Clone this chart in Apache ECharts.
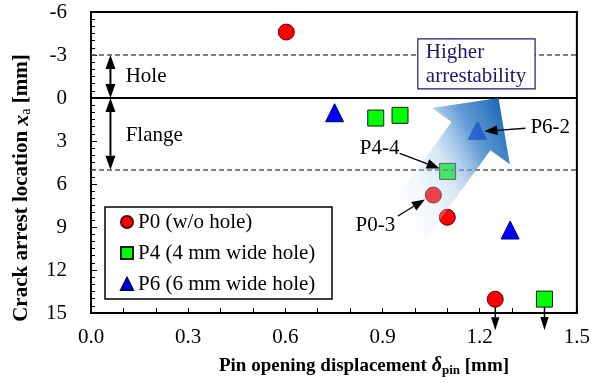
<!DOCTYPE html>
<html>
<head>
<meta charset="utf-8">
<script src="https://cdn.jsdelivr.net/npm/echarts@6/dist/echarts.min.js"></script>
<style>
  html, body { margin: 0; padding: 0; background: #fff; }
  #chart { width: 593px; height: 386px; }
</style>
</head>
<body>
<div id="chart"></div>
<script>
// Pin opening displacement [mm] and crack arrest location [mm] for each specimen group
const p0Delta = [0.603, 1.057, 1.100, 1.248];
const p0Xa    = [-4.6, 6.77, 8.32, 14.04];
const p4Delta = [0.879, 0.954, 1.101, 1.400];
const p4Xa    = [1.40, 1.21, 5.12, 14.03];
const p6Delta = [0.752, 1.193, 1.294];
const p6Xa    = [1.03, 2.25, 9.21];

const seriesNames = ['P0 (w/o hole)', 'P4 (4 mm wide hole)', 'P6 (6 mm wide hole)'];

// Axis ticks
const xTicks = [0.0, 0.3, 0.6, 0.9, 1.2, 1.5];
const yTicks = [-6, -3, 0, 3, 6, 9, 12, 15];

// Region boundaries along the crack path [mm]
const holeEdge = -3;
const flangeTop = 0;
const flangeEdge = 5;

// Specimens whose crack ran beyond the measured range: [group, index]
const runOut = [[0, 3], [1, 3]];

// Labelled specimens: [label, group, index]
const labelled = [['P6-2', 2, 1], ['P4-4', 1, 2], ['P0-3', 0, 1]];

const FONT = '"Liberation Serif", "Times New Roman", serif';
const groups = [[p0Delta, p0Xa], [p4Delta, p4Xa], [p6Delta, p6Xa]];
const symbols = ['circle', 'rect', 'triangle'];
const fills = ['#ff0000', '#00ff00', '#0000ff'];
const edges = ['#5a0000', '#1c1c1c', '#00006a'];
const sizes = [16, 16, 18];

const chart = echarts.init(document.getElementById('chart'), null, { renderer: 'canvas' });

const pointSeries = groups.map((g, i) => ({
  type: 'scatter',
  name: seriesNames[i],
  symbol: symbols[i],
  symbolSize: sizes[i],
  z: 3,
  itemStyle: { color: fills[i], borderColor: edges[i], borderWidth: 1, opacity: 1 },
  emphasis: { disabled: true },
  data: g[0].map((x, k) => [x, g[1][k]])
}));

chart.setOption({
  animation: false,
  grid: {
    left: 91, right: 13, top: 12, bottom: 73,
    show: true, borderColor: '#000', borderWidth: 2
  },
  xAxis: {
    type: 'value',
    min: xTicks[0],
    max: xTicks[xTicks.length - 1],
    interval: xTicks[1] - xTicks[0],
    axisLine: { onZero: false, lineStyle: { color: '#000', width: 2 } },
    axisTick: { inside: true, length: 5, lineStyle: { color: '#000', width: 1 } },
    minorTick: { show: true, splitNumber: 3, length: 5, lineStyle: { color: '#000', width: 1 } },
    splitLine: { show: false },
    axisLabel: {
      margin: 14, fontSize: 21, fontFamily: FONT, color: '#000',
      formatter: v => v.toFixed(1)
    }
  },
  yAxis: {
    type: 'value',
    inverse: true,
    min: yTicks[0],
    max: yTicks[yTicks.length - 1],
    interval: yTicks[1] - yTicks[0],
    axisLine: { onZero: false, lineStyle: { color: '#000', width: 2 } },
    axisTick: { inside: true, length: 6, lineStyle: { color: '#000', width: 1 } },
    minorTick: { show: true, splitNumber: 6, length: 4, lineStyle: { color: '#000', width: 1 } },
    splitLine: { show: false },
    axisLabel: { margin: 24, fontSize: 21, fontFamily: FONT, color: '#000' }
  },
  legend: {
    data: seriesNames,
    orient: 'vertical',
    left: 120,
    top: 211,
    padding: 0,
    itemGap: 9,
    itemWidth: 12,
    itemHeight: 12,
    selectedMode: false,
    textStyle: { fontSize: 21, fontFamily: FONT, color: '#000', lineHeight: 22 }
  },
  series: [
    {
      // boundary lines drawn beneath the markers
      type: 'scatter',
      name: 'boundaries',
      data: [],
      z: 1,
      silent: true,
      markLine: {
        silent: true,
        symbol: 'none',
        animation: false,
        label: { show: false },
        data: [
          { yAxis: holeEdge, lineStyle: { type: [5, 3], color: '#555', width: 1.5 } },
          { yAxis: flangeEdge, lineStyle: { type: [5, 3], color: '#555', width: 1.5 } },
          { yAxis: flangeTop, lineStyle: { type: 'solid', color: '#000', width: 2 } }
        ]
      }
    }
  ].concat(pointSeries)
});

// ---- annotations, placed from data coordinates ----
const px = (x, y) => chart.convertToPixel({ gridIndex: 0 }, [x, y]);

function headPts(from, tip, len, hw) {
  const dx = tip[0] - from[0], dy = tip[1] - from[1];
  const L = Math.hypot(dx, dy);
  const ux = dx / L, uy = dy / L, nx = -uy, ny = ux;
  const bx = tip[0] - ux * len, by = tip[1] - uy * len;
  return { base: [bx, by], pts: [tip, [bx + nx * hw, by + ny * hw], [bx - nx * hw, by - ny * hw]] };
}

function arrow(from, tip, len, hw, width, z) {
  const h = headPts(from, tip, len, hw);
  return [
    { type: 'line', z: z, silent: true,
      shape: { x1: from[0], y1: from[1], x2: h.base[0], y2: h.base[1] },
      style: { stroke: '#000', lineWidth: width } },
    { type: 'polygon', z: z, silent: true, shape: { points: h.pts }, style: { fill: '#000' } }
  ];
}

function doubleArrow(a, b, len, hw, width, z) {
  const h1 = headPts(b, a, len, hw);
  const h2 = headPts(a, b, len, hw);
  return [
    { type: 'line', z: z, silent: true,
      shape: { x1: h1.base[0], y1: h1.base[1], x2: h2.base[0], y2: h2.base[1] },
      style: { stroke: '#000', lineWidth: width } },
    { type: 'polygon', z: z, silent: true, shape: { points: h1.pts }, style: { fill: '#000' } },
    { type: 'polygon', z: z, silent: true, shape: { points: h2.pts }, style: { fill: '#000' } }
  ];
}

const els = [];

// legend frame
els.push({ type: 'rect', z: 5, silent: true,
  shape: { x: 105, y: 207, width: 227, height: 92 },
  style: { fill: null, stroke: '#000', lineWidth: 1.5 } });

// hole / flange extents
const arrX = 0.06;
els.push(...doubleArrow(px(arrX, holeEdge), px(arrX, flangeTop), 14, 5, 2, 6));
els.push(...doubleArrow(px(arrX, flangeTop), px(arrX, flangeEdge), 14, 5, 2, 6));
const holeTxt = px(0.107, (holeEdge + flangeTop) / 2);
const flangeTxt = px(0.107, 2.65);
els.push({ type: 'text', z: 6, silent: true,
  style: { x: holeTxt[0], y: holeTxt[1], text: 'Hole', fontSize: 21, fontFamily: FONT,
    fill: '#000', align: 'left', verticalAlign: 'middle' } });
els.push({ type: 'text', z: 6, silent: true,
  style: { x: flangeTxt[0], y: flangeTxt[1], text: 'Flange', fontSize: 21, fontFamily: FONT,
    fill: '#000', align: 'left', verticalAlign: 'middle' } });

// broad trend arrow
const tip = px(1.258, flangeTop);
const ang = Math.atan2(-0.81, 0.586);
const d = [Math.cos(ang), Math.sin(ang)];
const n = [-d[1], d[0]];
const at = (s, w) => [tip[0] + d[0] * s + n[0] * w, tip[1] + d[1] * s + n[1] * w];
const headLen = 47, headHalf = 48, shaftHalf = 24, tailLen = 175;
const gdir = [0.894, -0.447];
const gStart = [tip[0] - gdir[0] * 160, tip[1] - gdir[1] * 160];
els.push({ type: 'polygon', z: 10, silent: true,
  shape: { points: [
    tip,
    at(-headLen, headHalf),
    at(-headLen, shaftHalf),
    at(-tailLen, shaftHalf),
    at(-tailLen, -shaftHalf),
    at(-headLen, -shaftHalf),
    at(-headLen, -headHalf)
  ] },
  style: {
    fill: new echarts.graphic.LinearGradient(gStart[0], gStart[1], tip[0], tip[1], [
      { offset: 0, color: 'rgba(255,255,255,0)' },
      { offset: 0.3, color: 'rgba(205,225,243,0.25)' },
      { offset: 0.5, color: 'rgba(160,198,232,0.42)' },
      { offset: 0.75, color: 'rgba(55,128,200,0.78)' },
      { offset: 1, color: 'rgba(15,95,180,0.95)' }
    ], true)
  } });

// "Higher arrestability" box
const boxTL = px(1.009, -4.12), boxBR = px(1.371, -0.63);
els.push({ type: 'rect', z: 11, silent: true,
  shape: { x: boxTL[0], y: boxTL[1], width: boxBR[0] - boxTL[0], height: boxBR[1] - boxTL[1] },
  style: { fill: '#fff', stroke: '#1a1a6e', lineWidth: 1.2 } });
els.push({ type: 'text', z: 12, silent: true,
  style: { x: boxTL[0] + 8, y: (boxTL[1] + boxBR[1]) / 2 + 1, text: 'Higher\narrestability',
    fontSize: 21, fontFamily: FONT, fill: '#1a1a6e', lineHeight: 24,
    align: 'left', verticalAlign: 'middle' } });

// specimen call-outs: text anchor offset, line start offset, line tip offset
const calloutGeom = {
  'P6-2': { text: [53, -3, 'left'], from: [48, -2], to: [7, 1] },
  'P4-4': { text: [-68, -23, 'center'], from: [-48, -18], to: [-8, -3] },
  'P0-3': { text: [-58, 30, 'center'], from: [-35.5, 21], to: [-8.5, 4.5] }
};
labelled.forEach(([label, g, k]) => {
  const p = px(groups[g][0][k], groups[g][1][k]);
  const c = calloutGeom[label];
  els.push({ type: 'text', z: 12, silent: true,
    style: { x: p[0] + c.text[0], y: p[1] + c.text[1], text: label, fontSize: 21, fontFamily: FONT,
      fill: '#000', align: c.text[2], verticalAlign: 'middle' } });
  els.push(...arrow([p[0] + c.from[0], p[1] + c.from[1]], [p[0] + c.to[0], p[1] + c.to[1]], 13, 5, 1.3, 12));
});

// run-out arrows below specimens beyond the range
runOut.forEach(([g, k]) => {
  const p = px(groups[g][0][k], groups[g][1][k]);
  els.push(...arrow([p[0], p[1]], [p[0], p[1] + 31], 13, 4.2, 1.5, 2));
});

// axis titles
const richFor = (size) => ({
  b: { fontSize: size, fontWeight: 'bold', fontFamily: FONT, fill: '#000' },
  i: { fontSize: size + 1, fontWeight: 'bold', fontStyle: 'italic', fontFamily: FONT, fill: '#000' },
  s: { fontSize: Math.round(size * 0.68), fontWeight: 'bold', fontFamily: FONT, fill: '#000', padding: [9, 0, 0, 0] },
  r: { fontSize: Math.round(size * 0.68), fontFamily: FONT, fill: '#000', padding: [9, 0, 0, 0] }
});
els.push({ type: 'text', z: 6, silent: true, x: 364, y: 366,
  style: { x: 0, y: 0, text: '{b|Pin opening displacement }{i|δ}{s|pin}{b| [mm]}',
    rich: richFor(19), align: 'center', verticalAlign: 'middle' } });
els.push({ type: 'text', z: 6, silent: true, x: 22, y: 188, rotation: Math.PI / 2,
  style: { x: 0, y: 0, text: '{b|Crack arrest location }{i|x}{r|a}{b| [mm]}',
    rich: richFor(21), align: 'center', verticalAlign: 'middle' } });

chart.setOption({ graphic: { elements: els } });
</script>
</body>
</html>
